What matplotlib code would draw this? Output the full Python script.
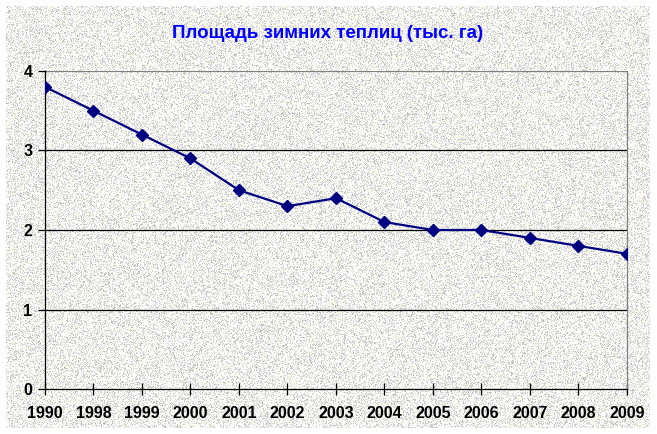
import numpy as np
import matplotlib
matplotlib.use('Agg')
from matplotlib import pyplot as plt

years = ['1990', '1998', '1999', '2000', '2001', '2002', '2003',
         '2004', '2005', '2006', '2007', '2008', '2009']
area = [3.8, 3.5, 3.2, 2.9, 2.5, 2.3, 2.4, 2.1, 2.0, 2.0, 1.9, 1.8, 1.7]
title = 'Площадь зимних теплиц (тыс. га)'

W, H = 657, 434
plt.rcParams['font.family'] = ['Liberation Sans', 'DejaVu Sans']

fig = plt.figure(figsize=(W / 100, H / 100), dpi=100)

# granite-like background (decoration only)
rng = np.random.default_rng(3)
palette = np.array([[255, 255, 255], [210, 210, 210], [252, 252, 228],
                    [185, 185, 185], [235, 235, 235]], dtype=np.uint8)
idx = rng.choice(len(palette), size=(H, W), p=[0.40, 0.22, 0.13, 0.05, 0.20])
bg = palette[idx]
page = np.full((H, W, 3), 255, dtype=np.uint8)
page[6:428, 6:650] = bg[6:428, 6:650]
bga = fig.add_axes([0, 0, 1, 1], zorder=-10)
bga.imshow(page, interpolation='nearest', aspect='auto')
bga.axis('off')

ax = fig.add_axes([45 / W, 1 - 389 / H, (627 - 45) / W, (389 - 71) / H])
ax.patch.set_alpha(0)

x = np.arange(len(years))
ax.plot(x, area, color='#000080', linewidth=1.6, marker='D', markersize=6,
        markerfacecolor='#000080', markeredgecolor='#000080', zorder=5)

ax.set_xlim(0, len(years) - 1)
ax.set_ylim(0, 4)
ax.set_xticks(x)
ax.set_xticklabels(years)
ax.set_yticks([0, 1, 2, 3, 4])
for v in [1, 2, 3]:
    ax.axhline(v, color='black', linewidth=0.9, zorder=1)
ax.axhline(4, color='#808080', linewidth=0.9, zorder=1)

for s in ['left', 'bottom']:
    ax.spines[s].set_color('black')
    ax.spines[s].set_linewidth(0.9)
ax.spines['right'].set_color('#808080')
ax.spines['right'].set_linewidth(0.9)
ax.spines['top'].set_visible(False)

ax.tick_params(axis='x', direction='inout', length=8, width=0.9, pad=8,
               labelsize=11.5)
ax.tick_params(axis='y', direction='out', length=5, width=0.9, pad=4,
               labelsize=11.5)
for lab in ax.get_xticklabels() + ax.get_yticklabels():
    lab.set_fontweight('bold')

fig.text(328 / W, 1 - 34 / H, title, ha='center', va='center',
         color='#0000ff', fontsize=13.5, fontweight='bold')

fig.savefig('out.png', dpi=100)
